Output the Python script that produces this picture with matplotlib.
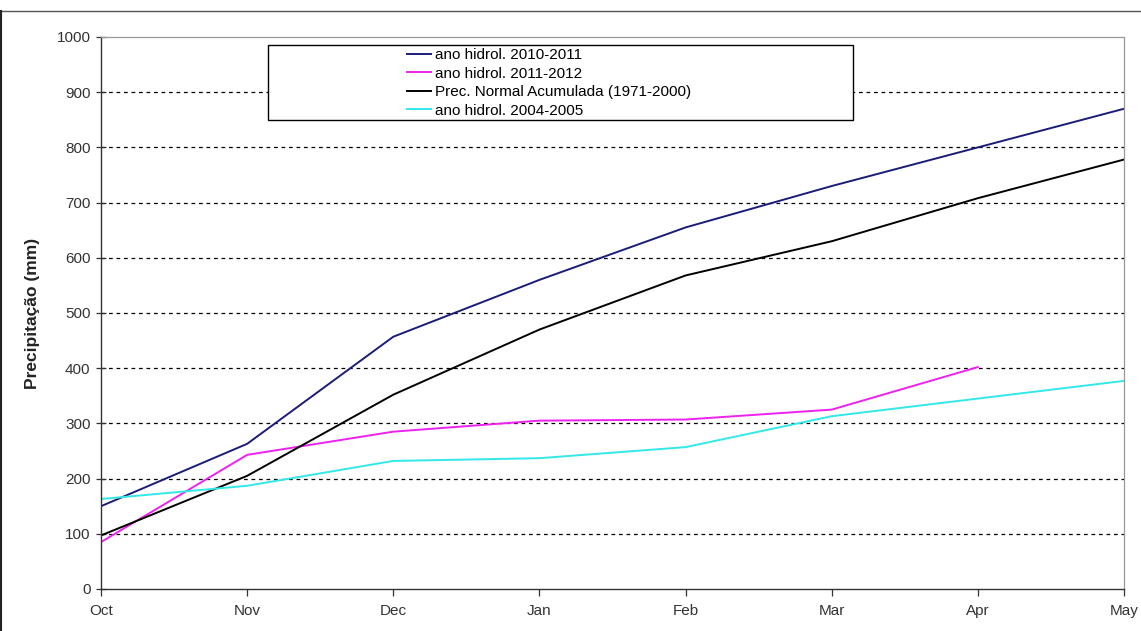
import matplotlib
matplotlib.use("Agg")
import matplotlib.pyplot as plt
from matplotlib.lines import Line2D
from matplotlib.patches import Rectangle

plt.rcParams["font.family"] = ["Liberation Sans", "DejaVu Sans"]

# ---------------------------------------------------
# Data (accumulated precipitation, mm)
# ---------------------------------------------------
months = ["Oct", "Nov", "Dec", "Jan", "Feb", "Mar", "Apr", "May"]

ano_2010_2011 = [150, 263, 457, 560, 655, 730, 800, 870]
ano_2011_2012 = [85, 243, 285, 305, 307, 325, 402]
normal_1971_2000 = [97, 205, 352, 470, 568, 630, 708, 778]
ano_2004_2005 = [163, 187, 232, 237, 257, 313, 345, 377]

y_ticks = list(range(0, 1001, 100))

# ---------------------------------------------------
# Figure
# ---------------------------------------------------
W, H = 1141, 631
fig = plt.figure(figsize=(W / 100, H / 100), dpi=100)
ax = fig.add_axes([101 / W, 1 - 589 / H, (1124 - 101) / W, (589 - 37) / H])

x = list(range(len(months)))
ax.plot(x, ano_2010_2011, color="#1c1c78", lw=1.4, label="ano hidrol. 2010-2011")
ax.plot(x[:len(ano_2011_2012)], ano_2011_2012, color="#ee22ee", lw=1.4,
        label="ano hidrol. 2011-2012")
ax.plot(x, normal_1971_2000, color="black", lw=1.4,
        label="Prec. Normal Acumulada (1971-2000)")
ax.plot(x, ano_2004_2005, color="#33e8e8", lw=1.4, label="ano hidrol. 2004-2005")

ax.set_xlim(0, len(months) - 1)
ax.set_ylim(0, 1000)
ax.set_xticks(x)
ax.set_xticklabels(months)
ax.set_yticks(y_ticks)

for v in y_ticks[1:-1]:
    ax.axhline(v, color="black", lw=0.9, ls=(0, (3, 3)), zorder=0)

for side in ["top", "right"]:
    ax.spines[side].set_color("#999999")
    ax.spines[side].set_linewidth(0.9)
for side in ["left", "bottom"]:
    ax.spines[side].set_color("#333333")
    ax.spines[side].set_linewidth(1.0)

ax.tick_params(axis="y", direction="inout", length=7, width=0.9,
               labelsize=11, colors="#333333", pad=4)
ax.tick_params(axis="x", direction="out", length=5, width=0.9,
               labelsize=11, colors="#333333", pad=6)

ax.set_ylabel("Precipitação (mm)", fontsize=12.5, fontweight="bold",
              color="#222222", labelpad=12)

# legend box (white, covers the grid)
ax.add_patch(Rectangle((268 / W, 1 - 120 / H), (853 - 268) / W, (120 - 45) / H,
                       transform=fig.transFigure, facecolor="white",
                       edgecolor="black", lw=1.0, zorder=4, clip_on=False))
leg = ax.legend(loc="upper left", bbox_to_anchor=(407 / W, 1 - 48 / H),
                bbox_transform=fig.transFigure, frameon=False,
                fontsize=11, handlelength=1.6, handletextpad=0.25,
                labelspacing=0.3, borderpad=0, borderaxespad=0)
leg.set_zorder(5)

# outer frame
fig.add_artist(Line2D([0, 1], [1 - 11 / H, 1 - 11 / H], transform=fig.transFigure,
                      color="#555555", lw=1.0))
fig.add_artist(Line2D([0.5 / W, 0.5 / W], [0, 1 - 11 / H], transform=fig.transFigure,
                      color="#222222", lw=1.5))

fig.savefig("out.png", dpi=100)
